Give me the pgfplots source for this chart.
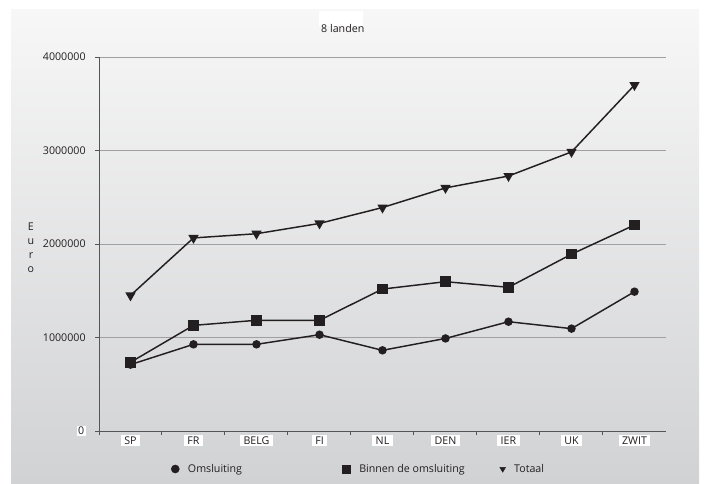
\documentclass[border=0pt]{standalone}
\usepackage{pgfplots}
\pgfplotsset{compat=1.18}
\usepackage{fontspec}
\setmainfont{Open Sans}
\definecolor{panelTop}{HTML}{F7F7F7}
\definecolor{panelBot}{HTML}{D1D2D4}
\definecolor{ink}{HTML}{231F20}
\definecolor{gridc}{HTML}{A0A0A0}
\definecolor{axc}{HTML}{555555}
\newcommand\f{\fontsize{8}{9.6}\selectfont}
\pgfplotstableread{
x om bin tot
0 710000 735000 1450000
1 927000 1130000 2065000
2 927000 1184000 2110000
3 1030000 1184000 2220000
4 863000 1518000 2390000
5 990000 1597000 2600000
6 1169000 1537000 2727000
7 1095000 1891000 2985000
8 1490000 2203000 3700000
}\data
\begin{document}
\begin{tikzpicture}
\path (0,0) rectangle (528.75pt,362.25pt);
\shade[top color=panelTop, bottom color=panelBot] (8.25pt,0) rectangle (524.25pt,354.75pt);
\fill[white] (239.25pt,342.75pt) rectangle (272.25pt,354pt);
\begin{axis}[
  at={(74.25pt,39pt)}, anchor=south west,
  scale only axis, width=425.25pt, height=280.5pt,
  xmin=-0.5, xmax=8.5, ymin=0, ymax=4000000,
  scaled y ticks=false,
  axis x line*=bottom, axis y line*=left,
  axis line style={draw=axc, line width=0.75pt, -},
  tick align=outside, major tick length=3pt,
  tick style={draw=axc, line width=0.75pt},
  ymajorgrids, major grid style={draw=gridc, line width=0.7pt},
  ytick={0,1000000,2000000,3000000,4000000},
  yticklabels={{\setlength{\fboxsep}{1pt}\colorbox{white}{0}},1000000,2000000,3000000,4000000},
  yticklabel style={xshift=-3.5pt},
  xtick={-0.5,0.5,1.5,2.5,3.5,4.5,5.5,6.5,7.5},
  xticklabels={},
  extra x ticks={0,1,2,3,4,5,6,7,8},
  extra x tick labels={SP,FR,BELG,FI,NL,DEN,IER,UK,ZWIT},
  extra x tick style={major tick length=0pt, xticklabel style={fill=white, inner xsep=2.5pt, inner ysep=1.5pt, yshift=-2.5pt}},
  every tick label/.append style={font=\f, text=ink},
  /pgf/number format/assume math mode=true,
  title={8 landen}, title style={font=\f, text=ink, at={(axis description cs:0.430,1.056)}, anchor=center},
  ylabel={E\\u\\r\\o},
  ylabel style={rotate=-90, align=center, font=\fontsize{8}{10.5}\selectfont, text=ink, at={(axis description cs:-0.12,0.49)}, anchor=center},
  legend columns=3,
  legend style={at={(axis description cs:0.127,-0.1016)}, anchor=west, draw=none, fill=none, inner sep=0pt, font=\f, text=ink, column sep=4.5pt, cells={anchor=west, inner sep=0pt}},
  legend image code/.code={\draw[mark repeat=2, mark phase=2, #1] plot coordinates {(0pt,0pt) (3pt,0pt) (6pt,0pt)};},
]
\addplot[ink, line width=1.1pt, mark=*, mark size=2.6pt, forget plot] table[x=x,y=om] {\data};
\addplot[ink, line width=1.1pt, mark=square*, mark size=3.4pt, forget plot] table[x=x,y=bin] {\data};
\addplot[ink, line width=1.1pt, mark=triangle*, mark size=3.4pt, mark options={rotate=180}, forget plot] table[x=x,y=tot] {\data};
\addlegendimage{only marks, mark=*, mark size=3pt, ink}
\addlegendentry{\makebox[109.5pt][l]{Omsluiting}}
\addlegendimage{only marks, mark=square*, mark size=3pt, ink}
\addlegendentry{\makebox[99pt][l]{Binnen de omsluiting}}
\addlegendimage{only marks, mark=triangle*, mark size=2.4pt, mark options={rotate=180}, ink}
\addlegendentry{Totaal}
\end{axis}
\end{tikzpicture}
\end{document}
